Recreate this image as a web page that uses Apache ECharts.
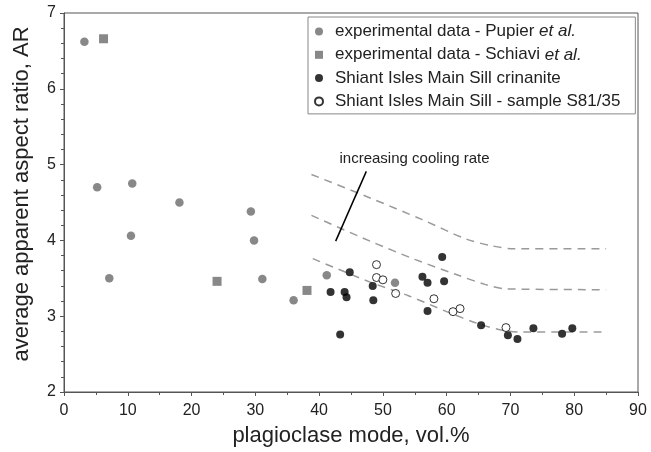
<!DOCTYPE html>
<html>
<head>
<meta charset="utf-8">
<script src="https://cdn.jsdelivr.net/npm/echarts@6/dist/echarts.min.js"></script>
<style>
  html, body { margin: 0; padding: 0; background: #fff; }
  #chart { width: 651px; height: 452px; }
</style>
</head>
<body>
<div id="chart"></div>
<script>
// experimental data - Pupier et al. [plag mode, AR]
const pupier = [
  [3.2, 6.62], [5.2, 4.70], [10.7, 4.75], [18.1, 4.50], [29.3, 4.38],
  [10.5, 4.06], [29.8, 4.00], [7.1, 3.50], [31.1, 3.49], [36.0, 3.21],
  [41.2, 3.54], [51.9, 3.44]
];
// experimental data - Schiavi et al.
const schiavi = [[6.2, 6.66], [24.0, 3.46], [38.1, 3.34]];
// Shiant Isles Main Sill crinanite
const crinanite = [
  [44.8, 3.58], [41.8, 3.32], [44.0, 3.32], [44.3, 3.25], [43.3, 2.76],
  [48.4, 3.40], [48.5, 3.21], [56.2, 3.52], [57.0, 3.44], [57.0, 3.07],
  [59.3, 3.78], [59.6, 3.46], [65.4, 2.88], [69.6, 2.75], [71.1, 2.70],
  [73.6, 2.84], [78.1, 2.77], [79.7, 2.84]
];
// Shiant Isles Main Sill - sample S81/35
const s8135 = [
  [49.0, 3.68], [49.0, 3.51], [50.0, 3.48], [52.0, 3.30], [58.0, 3.23],
  [61.0, 3.06], [62.1, 3.10], [69.3, 2.85]
];
// dashed cooling-rate trend curves
const curveHigh = [[38.8, 4.87], [48, 4.56], [56, 4.28], [63, 4.02], [67, 3.93], [70.5, 3.89], [85, 3.89]];
const curveMid = [[38.8, 4.33], [48, 3.99], [55, 3.75], [61.5, 3.55], [66, 3.42], [69.5, 3.36], [85, 3.35]];
const curveLow = [[39, 3.76], [48, 3.45], [54, 3.27], [60, 3.06], [65, 2.90], [69, 2.81], [72, 2.79], [85, 2.79]];
// arrow annotation
const arrowFrom = [42.6, 3.99];
const arrowTo = [47.4, 4.91];
const arrowText = 'increasing cooling rate';
const arrowTextAt = [43.2, 5.07];

const legendNames = [
  'experimental data - Pupier et al.',
  'experimental data - Schiavi et al.',
  'Shiant Isles Main Sill crinanite',
  'Shiant Isles Main Sill - sample S81/35'
];

const gray = '#6a6a6a';
const axisColor = '#555';
const textColor = '#222';
const font = 'Liberation Sans, Arial, sans-serif';
const squareIcon = 'path://M0,0h10v10h-10z';

const chart = echarts.init(document.getElementById('chart'));

const dashed = (data) => ({
  type: 'line',
  data: data,
  smooth: 0.3,
  symbol: 'none',
  silent: true,
  lineStyle: { color: '#9a9a9a', width: 1.5, type: [8, 6] },
  z: 1
});

chart.setOption({
  animation: false,
  textStyle: { fontFamily: font },
  grid: {
    left: 64, right: 13, top: 13, bottom: 59,
    show: true, borderColor: axisColor, borderWidth: 1
  },
  legend: {
    data: legendNames.map((n, i) => ({
      name: n,
      icon: i === 1 ? squareIcon : 'circle'
    })),
    orient: 'vertical',
    left: 308,
    top: 17,
    padding: [6, 15, 4, 6],
    itemWidth: 22,
    itemHeight: 8,
    itemGap: 6.3,
    symbolKeepAspect: true,
    borderColor: '#888',
    borderWidth: 1,
    backgroundColor: '#fff',
    textStyle: {
      fontSize: 17, color: textColor, fontFamily: font,
      rich: { i: { fontSize: 17, fontStyle: 'italic', color: textColor, fontFamily: font } }
    },
    formatter: (name) => name.replace('et al.', '{i|et al.}')
  },
  xAxis: {
    type: 'value',
    min: 0, max: 90, interval: 10,
    name: 'plagioclase mode, vol.%',
    nameLocation: 'middle',
    nameGap: 33,
    nameTextStyle: { fontSize: 22, color: textColor },
    axisLine: { lineStyle: { color: axisColor } },
    axisTick: { show: true, length: 4, lineStyle: { color: axisColor } },
    minorTick: { show: true, splitNumber: 2, length: 3, lineStyle: { color: axisColor } },
    axisLabel: { fontSize: 16, color: textColor, margin: 11 },
    splitLine: { show: false }
  },
  yAxis: {
    type: 'value',
    min: 2, max: 7, interval: 1,
    name: 'average apparent aspect ratio, AR',
    nameLocation: 'middle',
    nameGap: 31,
    nameTextStyle: { fontSize: 22, color: textColor, padding: [0, 0, 0, 17] },
    axisLine: { show: true, lineStyle: { color: axisColor } },
    axisTick: { show: true, length: 4, lineStyle: { color: axisColor } },
    minorTick: { show: true, splitNumber: 5, length: 3, lineStyle: { color: axisColor } },
    axisLabel: { fontSize: 16, color: textColor, margin: 8 },
    splitLine: { show: false }
  },
  series: [
    dashed(curveHigh),
    dashed(curveMid),
    dashed(curveLow),
    {
      type: 'line',
      data: [],
      silent: true,
      markLine: {
        silent: true,
        symbol: ['none', 'arrow'],
        symbolSize: [0, 9],
        lineStyle: { color: '#000', width: 1.5, type: 'solid' },
        label: { show: false },
        data: [[{ coord: arrowFrom }, { coord: arrowTo }]]
      },
      markPoint: {
        symbol: 'circle',
        symbolSize: 0,
        silent: true,
        label: {
          show: true, position: 'right', distance: 0,
          formatter: arrowText, fontSize: 15, color: textColor, fontFamily: font
        },
        data: [{ coord: arrowTextAt }]
      }
    },
    {
      name: legendNames[0], type: 'scatter', data: pupier,
      symbol: 'circle', symbolSize: 8.5,
      itemStyle: { color: gray }, z: 3
    },
    {
      name: legendNames[1], type: 'scatter', data: schiavi,
      symbol: 'rect', symbolSize: 9,
      itemStyle: { color: gray }, z: 3
    },
    {
      name: legendNames[2], type: 'scatter', data: crinanite,
      symbol: 'circle', symbolSize: 8,
      itemStyle: { color: '#000' }, z: 4
    },
    {
      name: legendNames[3], type: 'scatter', data: s8135,
      symbol: 'circle', symbolSize: 8,
      itemStyle: { color: '#fff', borderColor: '#000', borderWidth: 1 }, z: 5
    }
  ]
});
</script>
</body>
</html>
